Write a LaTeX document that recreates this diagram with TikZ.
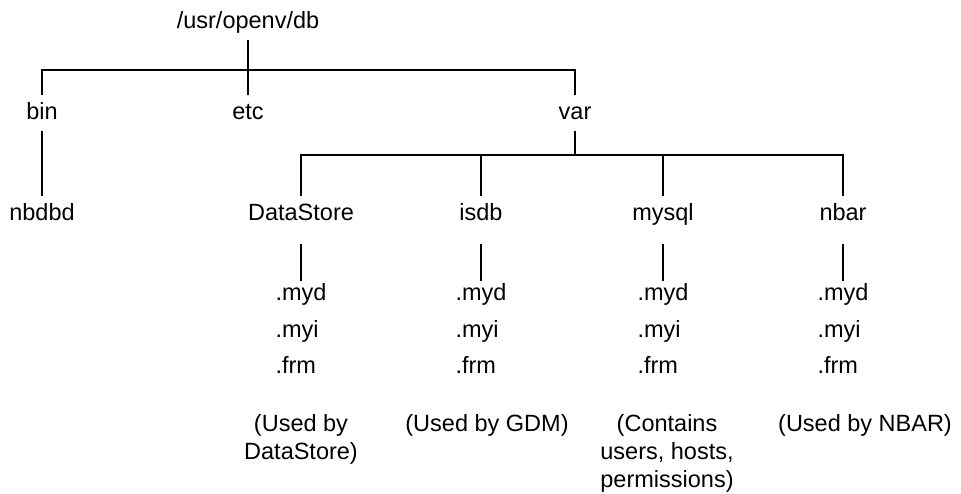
\documentclass[tikz,border=0pt]{standalone}
\usepackage{fontspec}
\setmainfont{Liberation Sans}

\begin{document}
\begin{tikzpicture}[x=0.5pt, y=-0.5pt, line width=0.65pt,
  every node/.style={font=\fontsize{11.75pt}{14pt}\selectfont, inner xsep=1pt},
  dir/.style={anchor=base, text height=8.5pt, text depth=2.5pt, inner ysep=3pt},
  leaf/.style={text height=8.5pt, text depth=2.5pt, inner ysep=0.5pt},
  note/.style={anchor=north, align=center, inner ysep=0pt}]
  \useasboundingbox (0,0) rectangle (961,493);

  % Top level: /usr/openv/db and its three children
  \node[dir] (root) at (248,28) {/usr/openv/db};
  \node[dir] (bin) at (42,119) {bin};
  \node[dir] (etc) at (248,119) {etc};
  \node[dir] (var) at (575,119) {var};
  \coordinate (topbar) at (248,70);
  \draw (root) -- (etc);
  \draw (bin.north) |- (topbar) -| (var.north);

  % bin
  \node[dir] (nbdbd) at (42,220) {nbdbd};
  \draw (bin) -- (nbdbd);

  % var and its four databases
  \node[dir] (datastore) at (301,220) {DataStore};
  \node[dir] (isdb) at (481,220) {isdb};
  \node[dir] (mysql) at (663,220) {mysql};
  \node[dir] (nbar) at (843,220) {nbar};
  \coordinate (varbar) at (575,155);
  \draw (var) -- (varbar);
  \draw (datastore.north) |- (varbar) -| (nbar.north);
  \draw (isdb.north) -- (isdb.north |- varbar);
  \draw (mysql.north) -- (mysql.north |- varbar);

  % Files: DataStore
  \node[leaf, anchor=base] (dsmyd) at (301,300) {.myd};
  \node[leaf, anchor=base west] (dsmyi) at ([yshift=-18.5pt]dsmyd.base west) {.myi};
  \node[leaf, anchor=base west] (dsfrm) at ([yshift=-18pt]dsmyi.base west) {.frm};
  \draw[shorten <=6pt] (datastore) -- (dsmyd);
  \node[note] (dsnote) at (301,414) {(Used by\\DataStore)};

  % Files: isdb
  \node[leaf, anchor=base] (ismyd) at (481,300) {.myd};
  \node[leaf, anchor=base west] (ismyi) at ([yshift=-18.5pt]ismyd.base west) {.myi};
  \node[leaf, anchor=base west] (isfrm) at ([yshift=-18pt]ismyi.base west) {.frm};
  \draw[shorten <=6pt] (isdb) -- (ismyd);
  \node[note] (isnote) at (487,414) {(Used by GDM)};

  % Files: mysql
  \node[leaf, anchor=base] (mymyd) at (663,300) {.myd};
  \node[leaf, anchor=base west] (mymyi) at ([yshift=-18.5pt]mymyd.base west) {.myi};
  \node[leaf, anchor=base west] (myfrm) at ([yshift=-18pt]mymyi.base west) {.frm};
  \draw[shorten <=6pt] (mysql) -- (mymyd);
  \node[note] (mynote) at (667,414) {(Contains\\users, hosts,\\permissions)};

  % Files: nbar
  \node[leaf, anchor=base] (nbmyd) at (843,300) {.myd};
  \node[leaf, anchor=base west] (nbmyi) at ([yshift=-18.5pt]nbmyd.base west) {.myi};
  \node[leaf, anchor=base west] (nbfrm) at ([yshift=-18pt]nbmyi.base west) {.frm};
  \draw[shorten <=6pt] (nbar) -- (nbmyd);
  \node[note] (nbnote) at (865,414) {(Used by NBAR)};
\end{tikzpicture}
\end{document}
